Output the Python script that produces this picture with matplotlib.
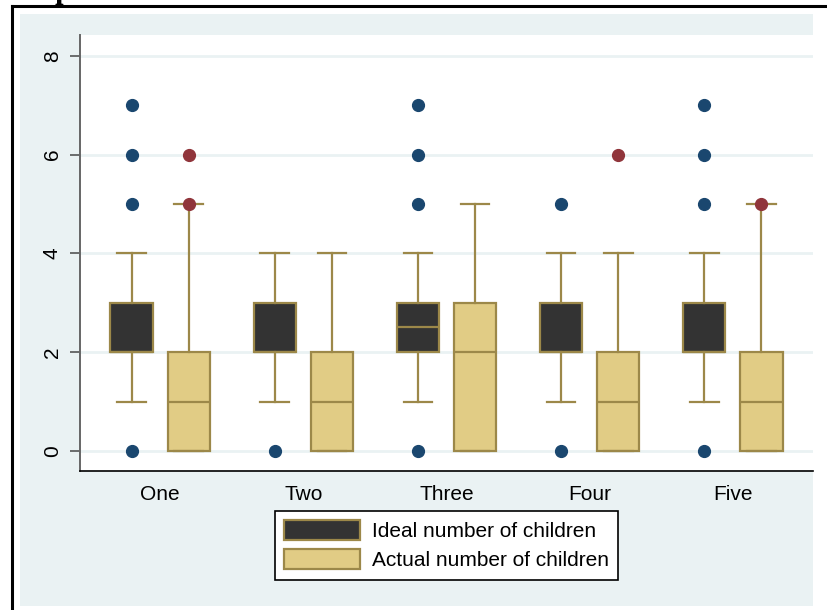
import matplotlib.pyplot as plt
from matplotlib.patches import Patch, Rectangle
from matplotlib.lines import Line2D

# ==================== Data ====================
classes = ['One', 'Two', 'Three', 'Four', 'Five']

# ideal number of children: quartiles, whiskers, outliers
ideal_q1 = [2, 2, 2, 2, 2]
ideal_med = [2, 2, 2.5, 2, 2]
ideal_q3 = [3, 3, 3, 3, 3]
ideal_lo = [1, 1, 1, 1, 1]
ideal_hi = [4, 4, 4, 4, 4]
ideal_out = [[0, 5, 6, 7], [0], [0, 5, 6, 7], [0, 5], [0, 5, 6, 7]]

# actual number of children
actual_q1 = [0, 0, 0, 0, 0]
actual_med = [1, 1, 2, 1, 1]
actual_q3 = [2, 2, 3, 2, 2]
actual_lo = [0, 0, 0, 0, 0]
actual_hi = [5, 4, 5, 4, 5]
actual_out = [[5, 6], [], [], [6], [5]]

y_ticks = [0, 2, 4, 6, 8]

C_DARK = '#333333'
C_SAND = '#e1cc85'
C_EDGE = '#9c8849'
C_NAVY = '#1a476f'
C_RED = '#90353b'
C_BG = '#eaf2f3'

plt.rcParams['font.family'] = ['Liberation Sans', 'DejaVu Sans']


def stats(q1, med, q3, lo, hi, out):
    return [dict(q1=a, med=m, q3=b, whislo=l, whishi=h, fliers=f)
            for a, m, b, l, h, f in zip(q1, med, q3, lo, hi, out)]


# ==================== Figure ====================
fig = plt.figure(figsize=(8.27, 6.10), dpi=100)
W, H = 827, 610

# outer panel and frame
fig.patches.append(Rectangle((20 / W, 1 - 606 / H), 793 / W, 592 / H,
                             transform=fig.transFigure, facecolor=C_BG,
                             edgecolor='none', zorder=-5))
fig.add_artist(Line2D([12 / W, 12 / W], [0, 1 - 6 / H], color='black', lw=2.2))
fig.add_artist(Line2D([12 / W, 1], [1 - 6 / H, 1 - 6 / H], color='black', lw=2.2))
fig.text(-0.005, 1 + 2 / H, 'occupational class', fontsize=22, fontweight='bold',
         family='Liberation Serif', va='baseline', ha='left')

ax = fig.add_axes([80 / W, 1 - 471 / H, 733 / W, 436 / H])
ax.set_zorder(2)
ax.set_facecolor('white')

pos = list(range(1, len(classes) + 1))
off = 0.2
width = 0.294

common = dict(widths=width, patch_artist=True, showfliers=True,
              whiskerprops=dict(color=C_EDGE, lw=1.6),
              capprops=dict(color=C_EDGE, lw=1.6),
              medianprops=dict(color=C_EDGE, lw=1.6),
              capwidths=width * 0.68, zorder=3)

b1 = ax.bxp(stats(ideal_q1, ideal_med, ideal_q3, ideal_lo, ideal_hi, ideal_out),
            positions=[p - off for p in pos],
            boxprops=dict(facecolor=C_DARK, edgecolor=C_EDGE, lw=1.6),
            flierprops=dict(marker='o', markerfacecolor=C_NAVY,
                            markeredgecolor=C_NAVY, markersize=8.5),
            **common)
b2 = ax.bxp(stats(actual_q1, actual_med, actual_q3, actual_lo, actual_hi, actual_out),
            positions=[p + off for p in pos],
            boxprops=dict(facecolor=C_SAND, edgecolor=C_EDGE, lw=1.6),
            flierprops=dict(marker='o', markerfacecolor=C_RED,
                            markeredgecolor=C_RED, markersize=8.5),
            **common)
for f in b1['fliers'] + b2['fliers']:
    f.set_zorder(5)

ax.set_xlim(0.44, 5.56)
ax.set_ylim(-0.405, 8.42)
ax.set_xticks(pos)
ax.set_xticklabels(classes, fontsize=15)
ax.tick_params(axis='x', length=0, pad=10)
ax.set_yticks(y_ticks)
ax.set_yticklabels([str(v) for v in y_ticks], rotation=90, va='center', fontsize=15)
ax.tick_params(axis='y', length=7, width=1.2, color='#555555', pad=6)
ax.grid(True, axis='y', color=C_BG, lw=2)
ax.set_axisbelow(True)

for s in ['top', 'right']:
    ax.spines[s].set_visible(False)
ax.spines['left'].set_color('#666666')
ax.spines['left'].set_linewidth(1.4)
ax.spines['bottom'].set_color('black')
ax.spines['bottom'].set_linewidth(1.2)

# ==================== Legend ====================
handles = [Patch(facecolor=C_DARK, edgecolor=C_EDGE, lw=1.6, label='Ideal number of children'),
           Patch(facecolor=C_SAND, edgecolor=C_EDGE, lw=1.6, label='Actual number of children')]
leg = fig.legend(handles=handles, loc='upper center', bbox_to_anchor=(446.5 / W, 1 - 511 / H),
                 fontsize=15, fancybox=False, framealpha=1, edgecolor='black',
                 handlelength=3.65, handleheight=1.05, handletextpad=0.55,
                 labelspacing=0.4, borderpad=0.45, borderaxespad=0)
leg.get_frame().set_linewidth(1.2)
leg.set_zorder(6)

fig.savefig('out.png', dpi=100)
